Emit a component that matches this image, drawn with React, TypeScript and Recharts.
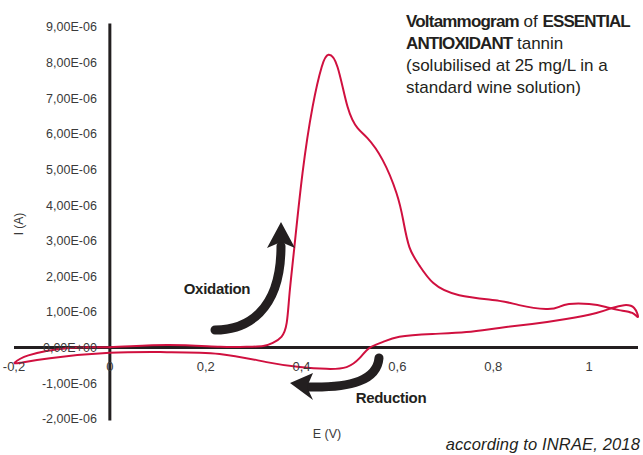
import { LineChart, Line, XAxis, YAxis, ReferenceLine, ReferenceDot } from "recharts";

// cyclic voltammogram, one closed loop: forward scan then the return scan
const potentials = [
  -0.2, -0.17, -0.09, 0, 0.12, 0.23, 0.29, 0.32, 0.34, 0.358, 0.369, 0.375, 0.385,
  0.402, 0.423, 0.442, 0.456, 0.475, 0.496, 0.517, 0.5375, 0.569, 0.598, 0.612, 0.625,
  0.646, 0.675, 0.729, 0.8125, 0.854, 0.91, 0.9375, 0.958, 1.0, 1.035, 1.0625, 1.09,
  1.102, 1.094, 1.073, 1.048, 1.015, 0.952, 0.881, 0.8125, 0.744, 0.673, 0.604, 0.569,
  0.542, 0.521, 0.494, 0.452, 0.396, 0.327, 0.229, 0.119, 0, -0.125, -0.1875, -0.2,
];
// current in units of 1E-06 A
const currents = [
  -0.44, -0.22, -0.02, 0.01, 0.07, 0.02, 0.02, 0.04, 0.13, 0.3, 0.69, 1.53, 2.82,
  4.9, 6.76, 7.88, 8.22, 7.88, 6.76, 6.16, 5.88, 5.27, 4.34, 3.58, 2.82,
  2.3, 1.81, 1.47, 1.31, 1.19, 1.08, 1.14, 1.22, 1.22, 1.14, 1.05, 0.97,
  0.86, 1.11, 1.19, 1.11, 0.97, 0.8, 0.66, 0.55, 0.435, 0.38, 0.3, 0.15,
  -0.01, -0.3, -0.55, -0.6, -0.55, -0.41, -0.18, -0.13, -0.15, -0.3, -0.43, -0.44,
];

const xTicks = [-0.2, 0, 0.2, 0.4, 0.6, 0.8, 1];
const xTickLabels = ["-0,2", "0", "0,2", "0,4", "0,6", "0,8", "1"];
const yTicks = [9, 8, 7, 6, 5, 4, 3, 2, 1, 0, -1, -2];
const yTickLabels = [
  "9,00E-06", "8,00E-06", "7,00E-06", "6,00E-06", "5,00E-06", "4,00E-06",
  "3,00E-06", "2,00E-06", "1,00E-06", "0,00E+00", "-1,00E-06", "-2,00E-06",
];

const data = potentials.map((e, i) => ({ e, i: currents[i] }));

const INK = "#231f20";
const TICK = "#3a3a3a";
const RED = "#d0103f";
const FONT = "'Liberation Sans', Arial, sans-serif";

export default function App() {
  return (
    <div style={{ position: "absolute", left: 0, top: 0, width: 643, height: 455, background: "#fff" }}>
      <LineChart
        width={643}
        height={455}
        data={data}
        margin={{ top: 23.5, right: 5, bottom: 34.5, left: 14 }}
      >
        <XAxis dataKey="e" type="number" domain={[-0.2, 1.1]} hide />
        <YAxis type="number" domain={[-2.05, 9.1]} hide />

        {/* tick labels sit on the axes that cross at the origin */}
        {yTicks.map((v, k) => (
          <ReferenceDot
            key={"y" + v}
            x={0}
            y={v}
            r={0}
            fill="none"
            stroke="none"
            label={{ value: yTickLabels[k], position: "left", offset: 13, fill: TICK, fontSize: 12.5, fontFamily: FONT }}
          />
        ))}
        {xTicks.map((v, k) => (
          <ReferenceDot
            key={"x" + v}
            x={v}
            y={0}
            r={0}
            fill="none"
            stroke="none"
            label={{ value: xTickLabels[k], position: "bottom", offset: 14, fill: TICK, fontSize: 13, fontFamily: FONT }}
          />
        ))}

        <ReferenceLine y={0} stroke={INK} strokeWidth={3} />
        <ReferenceLine x={0} stroke={INK} strokeWidth={3} />

        <Line
          dataKey="i"
          type="natural"
          stroke={RED}
          strokeWidth={2}
          dot={false}
          activeDot={false}
          isAnimationActive={false}
        />
      </LineChart>

      <svg
        width={643}
        height={455}
        style={{ position: "absolute", left: 0, top: 0, pointerEvents: "none" }}
        fontFamily={FONT}
      >
        <text x={406} fill={INK} fontSize={17}>
          <tspan x={406} y={27}>
            <tspan fontWeight="bold" letterSpacing={-0.8}>Voltammogram</tspan> of{" "}
            <tspan fontWeight="bold" letterSpacing={-0.9}>ESSENTIAL</tspan>
          </tspan>
          <tspan x={406} y={49}>
            <tspan fontWeight="bold" letterSpacing={-0.9}>ANTIOXIDANT</tspan> tannin
          </tspan>
          <tspan x={406} y={71}>(solubilised at 25 mg/L in a</tspan>
          <tspan x={406} y={93}>standard wine solution)</tspan>
        </text>

        {/* oxidation arrow */}
        <path d="M215,330 C246,330 281,312 281,246" fill="none" stroke={INK} strokeWidth={9} strokeLinecap="round" />
        <path d="M281,222 L295,248 L281,242 L267,248 Z" fill={INK} />
        <text x={217} y={294} textAnchor="middle" fill={INK} fontSize={15} fontWeight="bold" letterSpacing={-0.3}>
          Oxidation
        </text>

        {/* reduction arrow */}
        <path d="M379,358 C377,380 352,388 308,387" fill="none" stroke={INK} strokeWidth={9} strokeLinecap="round" />
        <path d="M290,383 L313,373 L307,387 L313,400 Z" fill={INK} />
        <text x={391} y={403} textAnchor="middle" fill={INK} fontSize={15} fontWeight="bold" letterSpacing={-0.3}>
          Reduction
        </text>

        <text x={327} y={438} textAnchor="middle" fill={TICK} fontSize={12.5}>
          E (V)
        </text>
        <text x={23} y={224} textAnchor="middle" fill={TICK} fontSize={12} transform="rotate(-90 23 224)">
          I (A)
        </text>
        <text x={640} y={450} textAnchor="end" fill={INK} fontSize={16.5} fontStyle="italic" letterSpacing={0.15}>
          according to INRAE, 2018
        </text>
      </svg>
    </div>
  );
}
